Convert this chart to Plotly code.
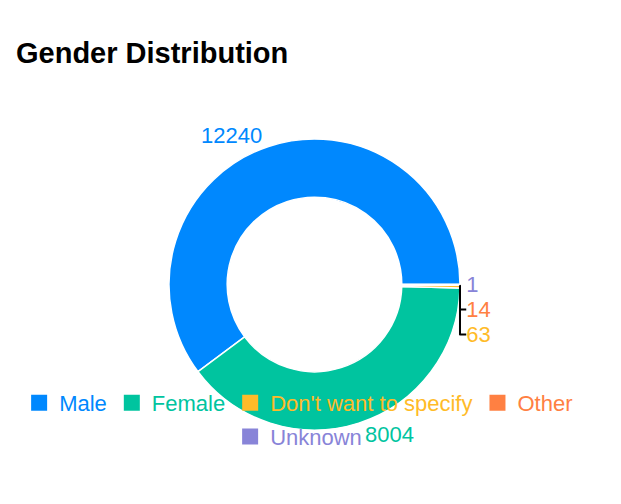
import plotly.graph_objects as go

# valores
generos = ['Male', 'Female', "Don't want to specify", 'Other', 'Unknown']
totais = [12240, 8004, 63, 14, 1]
cores = ['#0088FE', '#00C49F', '#FFBB28', '#FF8042', '#8884D8']

# linhas da legenda (a última fica sozinha embaixo)
linha_legenda = ['legend', 'legend', 'legend', 'legend', 'legend2']

fonte = 'Liberation Sans, Arial, sans-serif'
W, H = 621, 504
OFF = 8  # margem do <body> na página

# centro e raio da rosca (px)
cx, cy, r = 314.5 - OFF, 284.5 - OFF, 145.5

# Male começa às 3 horas e segue no sentido anti-horário
rot = 90 - 360 * totais[0] / sum(totais)

fig = go.Figure()

fig.add_trace(go.Pie(
    labels=generos,
    values=totais,
    hole=0.6,
    sort=False,
    direction='counterclockwise',
    rotation=rot,
    marker=dict(colors=cores, line=dict(color='white', width=1.5)),
    textposition='outside',
    texttemplate='%{value:d}',
    outsidetextfont=dict(color=cores, size=22, family=fonte),
    domain=dict(x=[(cx - r) / W, (cx + r) / W],
                y=[(H - cy - r) / H, (H - cy + r) / H]),
    showlegend=False,
))

# entradas da legenda com o texto na cor de cada fatia
for g, c, lg in zip(generos, cores, linha_legenda):
    fig.add_trace(go.Scatter(
        x=[None], y=[None], mode='markers',
        marker=dict(symbol='square', size=18, color=c),
        name=f'<span style="color:{c}">{g}</span>',
        legend=lg,
    ))

leg_comum = dict(orientation='h', xanchor='center', yanchor='top',
                 bgcolor='rgba(0,0,0,0)', font=dict(size=22, family=fonte),
                 itemclick=False)

fig.update_layout(
    width=W, height=H,
    margin=dict(l=0, r=0, t=0, b=0),
    paper_bgcolor='white', plot_bgcolor='white',
    title=dict(text='<b>Gender Distribution</b>', x=(16 - OFF) / W, xanchor='left',
               y=(H - 45) / H, yanchor='middle', yref='container',
               font=dict(size=29, color='black', family=fonte)),
    xaxis=dict(visible=False), yaxis=dict(visible=False),
    legend=dict(x=0.468, y=0.258, **leg_comum),
    legend2=dict(x=0.468, y=0.191, **leg_comum),
)

fig.write_html('out.html')
